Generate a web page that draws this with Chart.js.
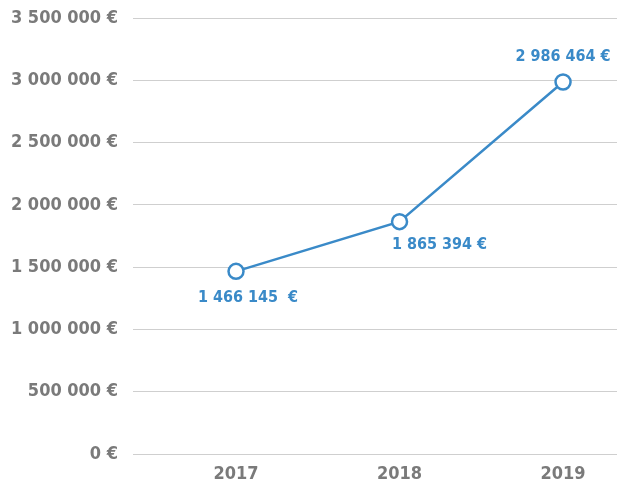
<!DOCTYPE html>
<html>
<head>
<meta charset="utf-8">
<script src="https://cdn.jsdelivr.net/npm/chart.js@4"></script>
<style>
  body { margin: 0; background: #fff; }
  #wrap { width: 640px; height: 487px; }
</style>
</head>
<body>
<div id="wrap"><canvas id="c"></canvas></div>
<script>
const years = [2017, 2018, 2019];
const revenue = [1466145, 1865394, 2986464];
const valueLabels = ['1 466 145  €', '1 865 394 €', '2 986 464 €'];
const yTicks = [0, 500000, 1000000, 1500000, 2000000, 2500000, 3000000, 3500000];

const blue = '#3a8ac8';
const grey = '#7a7a7a';
const font = '"Liberation Sans Narrow", "DejaVu Sans Condensed", sans-serif';

function euro(v) {
  return String(v).replace(/\B(?=(\d{3})+(?!\d))/g, ' ') + ' €';
}

// simple inline data label plugin (no datalabels plugin offline)
const pointLabels = {
  id: 'pointLabels',
  afterDatasetsDraw(chart, args, opts) {
    const ctx = chart.ctx;
    const meta = chart.getDatasetMeta(0);
    ctx.save();
    ctx.font = 'bold 16px ' + font;
    ctx.fillStyle = blue;
    ctx.textBaseline = 'middle';
    ctx.textAlign = 'center';
    meta.data.forEach((pt, i) => {
      const o = opts.offsets[i];
      ctx.fillText(valueLabels[i], pt.x + o[0], pt.y + o[1]);
    });
    ctx.restore();
  }
};

new Chart(document.getElementById('c'), {
  type: 'line',
  data: {
    datasets: [{
      data: years.map((y, i) => ({ x: y, y: revenue[i] })),
      borderColor: blue,
      borderWidth: 2.5,
      pointRadius: 7.5,
      pointBorderWidth: 2.5,
      pointBackgroundColor: '#fff',
      pointBorderColor: blue,
      tension: 0
    }]
  },
  options: {
    responsive: true,
    maintainAspectRatio: false,
    animation: false,
    layout: { padding: { top: 18, right: 23, left: 0, bottom: 0 } },
    plugins: {
      legend: { display: false },
      tooltip: { enabled: false },
      pointLabels: { offsets: [[12, 26], [40, 23], [0, -25]] }
    },
    scales: {
      x: {
        type: 'linear',
        min: 2016.37,
        max: 2019.33,
        afterBuildTicks(scale) { scale.ticks = years.map(v => ({ value: v })); },
        afterFit(scale) {
          scale.height = 33;
          scale.paddingLeft = 0;
          scale.paddingRight = 0;
        },
        grid: { display: false },
        border: { display: false },
        ticks: {
          color: grey,
          padding: 2,
          font: { family: font, size: 18, weight: 'bold' },
          callback: v => String(v)
        }
      },
      y: {
        min: 0,
        max: 3500000,
        afterBuildTicks(scale) { scale.ticks = yTicks.map(v => ({ value: v })); },
        afterFit(scale) {
          scale.width = 133;
          scale.paddingTop = 0;
          scale.paddingBottom = 0;
        },
        grid: { color: '#cfcfcf', lineWidth: 1, drawTicks: false },
        border: { display: false },
        ticks: {
          color: grey,
          padding: 15,
          font: { family: font, size: 18, weight: 'bold' },
          callback: v => euro(v)
        }
      }
    }
  },
  plugins: [pointLabels]
});
</script>
</body>
</html>
